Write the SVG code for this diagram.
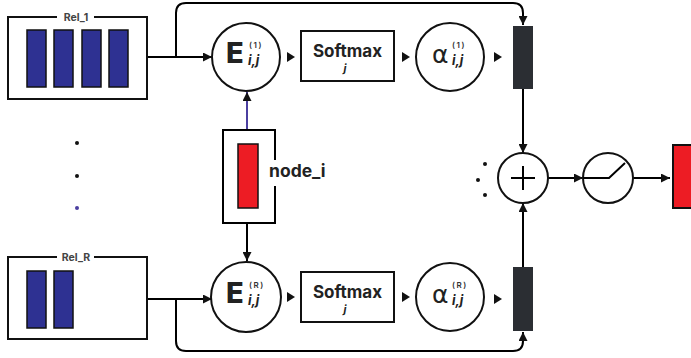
<svg xmlns="http://www.w3.org/2000/svg" width="691" height="358" viewBox="0 0 691 358">
<style>
.ln{fill:none;stroke:#000;stroke-width:2}
.box{fill:#fff;stroke:#111;stroke-width:2}
.circ{fill:#fff;stroke:#111;stroke-width:2}
.bar{fill:#2e3192;stroke:#111;stroke-width:1.5}
.dark{fill:#2b2e33}
.tri{fill:#111}
.lbl{font-family:Inter,"Liberation Sans",sans-serif;font-weight:700;fill:#444;font-size:10.5px}
.big{font-family:Inter,"Liberation Sans",sans-serif;font-weight:800;fill:#222;font-size:29px}
.alpha{font-family:"DejaVu Sans","Liberation Sans",sans-serif;fill:#222;font-size:25px}
.sup{font-family:Inter,"Liberation Sans",sans-serif;font-weight:600;fill:#333;font-size:8px;letter-spacing:1.5px}
.sub{font-family:Inter,"Liberation Sans",sans-serif;font-weight:700;font-style:italic;fill:#222;font-size:13px}
.sm{font-family:Inter,"Liberation Sans",sans-serif;font-weight:700;fill:#222;font-size:17px}
.smj{font-family:Inter,"Liberation Sans",sans-serif;font-weight:700;font-style:italic;fill:#222;font-size:11px}
</style>
<defs>
<marker id="ah" viewBox="0 0 10 10" refX="10" refY="5" markerUnits="userSpaceOnUse" markerWidth="9" markerHeight="9" orient="auto">
<path d="M0,0 L10,5 L0,10 z" fill="#111"/>
</marker>
</defs>

<g id="connectors">
<path class="ln" d="M147,57 H212" marker-end="url(#ah)"/>
<path class="ln" d="M176,57 V13 Q176,3 186,3 H513 Q523,3 523,13 V25" marker-end="url(#ah)"/>
<path class="ln" d="M147,299 H212" marker-end="url(#ah)"/>
<path class="ln" d="M176,299 V341 Q176,351 186,351 H513 Q523,351 523,341 V332" marker-end="url(#ah)"/>
<path d="M247,130 V92" fill="none" stroke="#4b3fa0" stroke-width="2" marker-end="url(#ah)"/>
<path class="ln" d="M247,223 V261" marker-end="url(#ah)"/>
<path class="ln" d="M523,89 V153" marker-end="url(#ah)"/>
<path class="ln" d="M523,267 V203" marker-end="url(#ah)"/>
<path class="ln" d="M548,178 H583" marker-end="url(#ah)"/>
<path class="ln" d="M633,178 H670" marker-end="url(#ah)"/>
<polygon class="tri" points="287,52 295,57 287,62"/>
<polygon class="tri" points="402,52 410,57 402,62"/>
<polygon class="tri" points="494,52 502,57 494,62"/>
<polygon class="tri" points="287,292 295,297 287,302"/>
<polygon class="tri" points="402,292 410,297 402,302"/>
<polygon class="tri" points="494,294 502,299 494,304"/>
</g>

<g id="rel1">
<rect class="box" x="8" y="17" width="139" height="82"/>
<rect x="57" y="11" width="37" height="12" fill="#fff"/>
<text class="lbl" x="76" y="21" text-anchor="middle">Rel_1</text>
<rect class="bar" x="27" y="30" width="19" height="57"/>
<rect class="bar" x="54" y="30" width="19" height="57"/>
<rect class="bar" x="82" y="30" width="19" height="57"/>
<rect class="bar" x="109" y="30" width="19" height="57"/>
</g>

<g id="relR">
<rect class="box" x="8" y="257" width="139" height="82"/>
<rect x="57" y="251" width="37" height="12" fill="#fff"/>
<text class="lbl" x="76" y="261" text-anchor="middle">Rel_R</text>
<rect class="bar" x="27" y="271" width="19" height="57"/>
<rect class="bar" x="54" y="271" width="19" height="57"/>
</g>

<g id="dots-left">
<circle cx="77" cy="143" r="2" fill="#111"/>
<circle cx="77" cy="176" r="2" fill="#111"/>
<circle cx="77" cy="208" r="2" fill="#4b3fa0"/>
</g>

<g id="node_i">
<path class="ln" d="M275,160 V130 H223 V223 H275 V186"/>
<rect x="238" y="144" width="20" height="64" fill="#ed1c24" stroke="#111" stroke-width="1.5"/>
<text class="sm" x="269" y="177" style="font-size:17.5px">node_i</text>
</g>

<g id="E1">
<circle class="circ" cx="246" cy="57" r="34"/>
<text class="big" x="226" y="63">E</text>
<text class="sup" x="249" y="48">(1)</text>
<text class="sub" x="248" y="65">i,j</text>
</g>
<g id="softmax1">
<rect class="box" x="301" y="31" width="93" height="50"/>
<text class="sm" x="347.5" y="57" text-anchor="middle">Softmax</text>
<text class="smj" x="345" y="72" text-anchor="middle">j</text>
</g>
<g id="alpha1">
<circle class="circ" cx="450" cy="57" r="34"/>
<text class="alpha" x="432" y="63">α</text>
<text class="sup" x="452" y="48">(1)</text>
<text class="sub" x="452" y="65">i,j</text>
</g>
<g id="bar1"><rect class="dark" x="513" y="26" width="20" height="63"/></g>

<g id="ER">
<circle class="circ" cx="246" cy="297" r="35"/>
<text class="big" x="226" y="303">E</text>
<text class="sup" x="249" y="288">(R)</text>
<text class="sub" x="248" y="305">i,j</text>
</g>
<g id="softmaxR">
<rect class="box" x="301" y="272" width="93" height="50"/>
<text class="sm" x="347.5" y="298" text-anchor="middle">Softmax</text>
<text class="smj" x="345" y="313" text-anchor="middle">j</text>
</g>
<g id="alphaR">
<circle class="circ" cx="450" cy="297" r="34"/>
<text class="alpha" x="432" y="303">α</text>
<text class="sup" x="452" y="288">(R)</text>
<text class="sub" x="452" y="305">i,j</text>
</g>
<g id="barR"><rect class="dark" x="513" y="267" width="20" height="64"/></g>

<g id="sum">
<circle class="circ" cx="523" cy="178" r="25"/>
<path class="ln" d="M511,178 H535 M523,166 V190"/>
<circle cx="485" cy="164" r="2" fill="#111"/>
<circle cx="478" cy="180" r="2" fill="#111"/>
<circle cx="485" cy="195" r="2" fill="#111"/>
</g>

<g id="relu">
<circle class="circ" cx="608" cy="178" r="25"/>
<path class="ln" d="M583,178 H609 L625,163"/>
</g>

<g id="output">
<rect x="673" y="145" width="22" height="63" fill="#ed1c24" stroke="#111" stroke-width="2"/>
</g>
</svg>
